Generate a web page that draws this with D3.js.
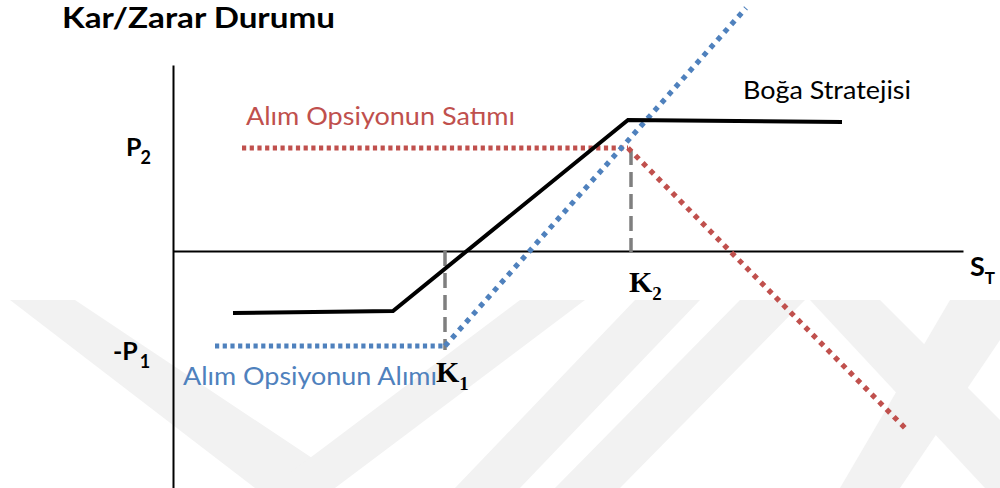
<!DOCTYPE html>
<html>
<head>
<meta charset="utf-8">
<script src="https://cdn.jsdelivr.net/npm/d3@7"></script>
<style>
  html, body { margin: 0; padding: 0; background: #fff; }
  svg { display: block; }
</style>
</head>
<body>
<svg id="chart" width="1000" height="488"></svg>
<script>
// ---- data (arbitrary price / profit units) ----
const xDomain = [0, 79];          // underlying price S_T
const yDomain = [-23.7, 18.6];    // profit / loss
const strategyS  = [6.0, 22.0, 45.5, 66.9];     // Boğa Stratejisi
const strategyPL = [-6.2, -6.0, 13.1, 12.9];
const longCallS  = [4.2, 27.2, 57.3];           // Alım Opsiyonun Alımı
const longCallPL = [-9.5, -9.5, 24.3];
const shortCallS  = [6.9, 45.5, 73.3];          // Alım Opsiyonun Satımı
const shortCallPL = [10.3, 10.3, -17.8];
const strikes = [27.2, 45.8];
const strikeSubs = ["1", "2"];
const premiumLevels = [10.3, -9.5];
const premiumMain = ["P", "-P"];
const premiumSubs = ["2", "1"];

const svg = d3.select("#chart");
const x = d3.scaleLinear().domain(xDomain).range([173, 963]);
const y = d3.scaleLinear().domain(yDomain).range([488, 65]);

// ---- faint watermark ----
const wm = svg.append("g").attr("fill", "#f2f2f2");
const wmPolys = [
  [[10,300],[75,300],[330,470],[300,488],[255,488]],
  [[520,300],[585,300],[335,488],[270,488]],
  [[635,300],[700,300],[520,488],[455,488]],
  [[740,300],[805,300],[620,488],[555,488]],
  [[810,300],[880,300],[1000,420],[1000,488],[985,488]],
  [[950,300],[1000,300],[1000,340],[900,488],[840,488]]
];
wmPolys.forEach(p => wm.append("polygon").attr("points", p.map(d => d.join(",")).join(" ")));

// ---- axes ----
svg.append("g").attr("transform", `translate(0,${y(0)})`)
  .call(d3.axisBottom(x).tickValues([]).tickSizeOuter(0))
  .call(g => g.select(".domain").attr("stroke", "#000").attr("stroke-width", 1.8));
svg.append("g").attr("transform", `translate(${x(0)},0)`)
  .call(d3.axisLeft(y).tickValues([]).tickSizeOuter(0))
  .call(g => g.select(".domain").attr("stroke", "#000").attr("stroke-width", 2));

const line = d3.line().x(d => x(d[0])).y(d => y(d[1]));

// ---- strike dashed verticals ----
svg.append("path").attr("d", line([[strikes[0], 0], [strikes[0], longCallPL[0] - 0.4]]))
  .attr("stroke", "#7f7f7f").attr("stroke-width", 3.5).attr("stroke-dasharray", "15,7").attr("fill", "none");
svg.append("path").attr("d", line([[strikes[1], shortCallPL[0] - 0.2], [strikes[1], -0.1]]))
  .attr("stroke", "#7f7f7f").attr("stroke-width", 3.5).attr("stroke-dasharray", "15,7").attr("fill", "none");

// ---- short call (red) ----
const red = "#c0504d", blue = "#4f81bd";
svg.append("path").attr("d", line([[shortCallS[0], shortCallPL[0]], [shortCallS[1], shortCallPL[1]]]))
  .attr("stroke", red).attr("stroke-width", 5).attr("stroke-dasharray", "4.2,3.5").attr("fill", "none");
svg.append("path").attr("d", line([[shortCallS[1], shortCallPL[1]], [shortCallS[2], shortCallPL[2]]]))
  .attr("stroke", red).attr("stroke-width", 5.2).attr("stroke-dasharray", "5,5.5").attr("fill", "none");

// ---- long call (blue) ----
svg.append("path").attr("d", line([[longCallS[0], longCallPL[0]], [longCallS[1], longCallPL[1]]]))
  .attr("stroke", blue).attr("stroke-width", 5).attr("stroke-dasharray", "4.2,3.5").attr("fill", "none");
svg.append("path").attr("d", line([[longCallS[1], longCallPL[1]], [longCallS[2], longCallPL[2]]]))
  .attr("stroke", blue).attr("stroke-width", 5.2).attr("stroke-dasharray", "5,5.5").attr("fill", "none");

// ---- bull spread (black) ----
svg.append("path").attr("d", line(strategyS.map((s, i) => [s, strategyPL[i]])))
  .attr("stroke", "#000").attr("stroke-width", 4).attr("fill", "none").attr("stroke-linejoin", "miter");

// ---- texts ----
const sans = "Lato, 'Open Sans', sans-serif";
svg.append("text").attr("x", 62).attr("y", 28).text("Kar/Zarar Durumu")
  .attr("font-family", sans).attr("font-weight", "bold").attr("font-size", 28)
  .attr("textLength", 273).attr("lengthAdjust", "spacingAndGlyphs");
svg.append("text").attr("x", 246).attr("y", 125).text("Alım Opsiyonun Satımı")
  .attr("font-family", sans).attr("font-size", 25).attr("fill", red)
  .attr("textLength", 269).attr("lengthAdjust", "spacingAndGlyphs");
svg.append("text").attr("x", 183).attr("y", 385).text("Alım Opsiyonun Alımı")
  .attr("font-family", sans).attr("font-size", 25).attr("fill", blue)
  .attr("textLength", 254).attr("lengthAdjust", "spacingAndGlyphs");
svg.append("text").attr("x", 743).attr("y", 99).text("Boğa Stratejisi")
  .attr("font-family", sans).attr("font-size", 25).attr("fill", "#000")
  .attr("textLength", 168).attr("lengthAdjust", "spacingAndGlyphs");

// labels with subscripts (one text element each)
function subLabel(px, py, main, sub, family, size, subSize, dx, dy) {
  const t = svg.append("text").attr("x", px).attr("y", py)
    .attr("font-family", family).attr("font-weight", "bold").attr("font-size", size);
  t.append("tspan").text(main);
  t.append("tspan").attr("font-size", subSize).attr("dx", dx).attr("dy", dy).text(sub);
}

premiumLevels.forEach((v, i) => {
  const by = y(v) + (i === 0 ? 8 : 14);
  subLabel(i === 0 ? 126 : 113, by, premiumMain[i], premiumSubs[i], sans, 25, 18, i === 0 ? -1 : 2, 8);
});

// S_T
subLabel(970, 276, "S", "T", sans, 27, 17, 0, 8);

// strike labels
const serif = "'Liberation Serif', 'DejaVu Serif', serif";
const strikeLabelY = [382, 292];
strikes.forEach((k, i) => {
  const lx = x(k) - (i === 0 ? 9 : 2);
  subLabel(lx, strikeLabelY[i], "K", strikeSubs[i], serif, 30, 19, 0, 8);
});
</script>
</body>
</html>
